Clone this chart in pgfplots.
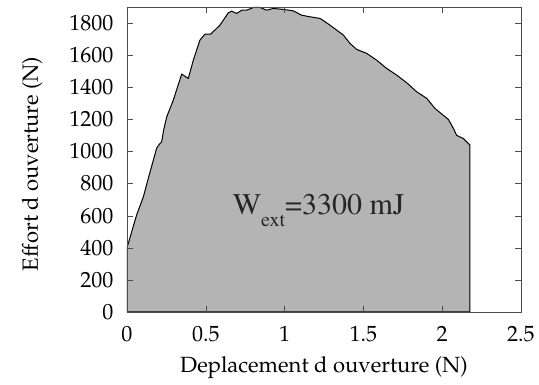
\documentclass[border=0pt]{standalone}
\usepackage[T1]{fontenc}
\usepackage{mathpazo}
\usepackage{pgfplots}
\pgfplotsset{compat=1.18}

\definecolor{areagray}{RGB}{180,180,180}

\begin{document}
\fontsize{22}{26}\selectfont
\begin{tikzpicture}
\useasboundingbox (-127pt,-73pt) rectangle (412pt,312pt);
\begin{axis}[
    at={(0pt,0pt)}, anchor=south west,
    scale only axis,
    width=394pt, height=305pt,
    xmin=0, xmax=2.5, ymin=0, ymax=1900,
    xtick={0,0.5,...,2.5},
    ytick={0,200,...,1800},
    tick align=inside,
    major tick length=6pt,
    axis line style={black!70},
    tick style={black!70},
    axis on top,
    xticklabel style={yshift=-7pt},
    yticklabel style={xshift=-6pt},
    xlabel={Deplacement d ouverture (N)},
    ylabel={Effort d ouverture (N)},
    xlabel style={at={(axis description cs:0.5,-0.2)}, anchor=base},
    ylabel style={at={(axis description cs:-0.226,0.485)}, anchor=base},
    /pgf/number format/.cd, fixed, 1000 sep={}, assume math mode=true,
  ]
\addplot[draw=black, line width=1pt, fill=areagray] coordinates {
  (0,400) (0.03,500) (0.061,604) (0.104,718) (0.14,850) (0.188,1020)
  (0.205,1045) (0.22,1060) (0.232,1130) (0.252,1216) (0.294,1320)
  (0.347,1482) (0.389,1455) (0.421,1569) (0.463,1694) (0.495,1731)
  (0.531,1731) (0.590,1787) (0.643,1864) (0.664,1874) (0.696,1860)
  (0.728,1880) (0.759,1880) (0.802,1897) (0.844,1897) (0.886,1880)
  (0.928,1891) (0.992,1885) (1.055,1876) (1.108,1849) (1.161,1839)
  (1.225,1829) (1.288,1787) (1.373,1725) (1.415,1673) (1.457,1636)
  (1.521,1611) (1.584,1569) (1.648,1517) (1.711,1476) (1.775,1428)
  (1.838,1372) (1.902,1331) (1.954,1268) (2.039,1200) (2.071,1144)
  (2.092,1100) (2.134,1081) (2.176,1040)
} \closedcycle;
\node[anchor=base west, inner sep=0pt, text=black!85] at (axis cs:0.67,610)
  {\fontfamily{ptm}\fontsize{30}{34}\selectfont W\raisebox{-12pt}{\fontsize{20}{24}\selectfont ext}=3300 mJ};
\end{axis}
\end{tikzpicture}
\end{document}
